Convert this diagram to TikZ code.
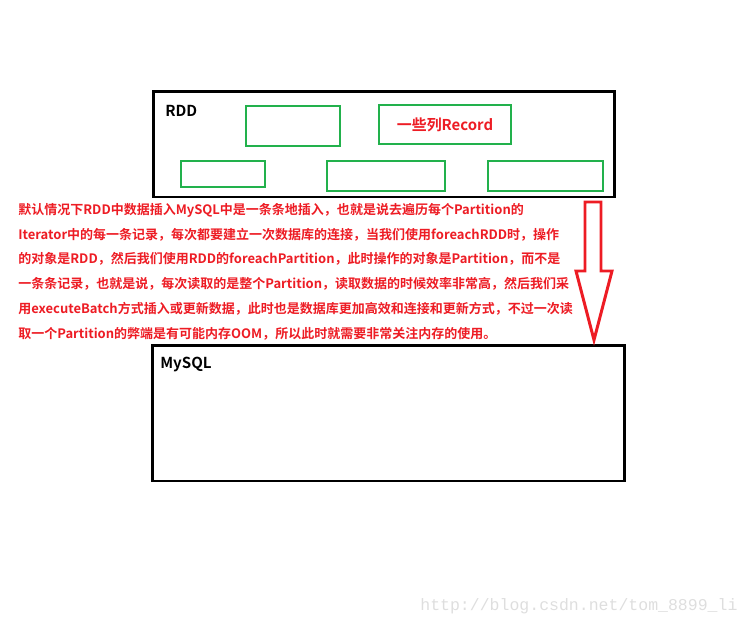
\documentclass[tikz,border=0pt]{standalone}
\usepackage{fontspec}
\setmainfont{Noto Sans CJK SC}[BoldFont={Noto Sans CJK SC Bold}]
\newfontfamily\urlfont{Liberation Mono}
\usepackage{xcolor}
\definecolor{paintred}{HTML}{ED1C24}
\definecolor{paintgreen}{HTML}{22B14C}
\usepackage{tikz}
\usetikzlibrary{positioning}

\begin{document}
\begin{tikzpicture}[x=0.02cm, y=-0.02cm,
    outer/.style={rectangle, draw=black, line width=1.7pt, inner sep=0pt},
    record/.style={rectangle, draw=paintgreen, line width=1.4pt, inner sep=0pt},
    title/.style={font=\fontsize{8.6}{10}\selectfont\bfseries, anchor=base west, inner sep=0pt},
    note/.style={font=\fontsize{7.4}{8}\selectfont\bfseries, text=paintred,
        anchor=base west, inner sep=0pt},
    bigarr/.style={draw=paintred, line width=1.7pt, line join=miter}
]
\useasboundingbox (0,0) rectangle (751,626);

% RDD box with its records
\node[outer, minimum width=9.24cm, minimum height=2.12cm] (RDD) at (384,144) {};
\node[title] (RDDlabel) at (165,116) {RDD};
\node[record, minimum width=1.88cm, minimum height=0.8cm] (R1) at (293,126) {};
\node[record, minimum width=2.64cm, minimum height=0.78cm] (R2) at (445,124.5) {};
\node[note, anchor=center, font=\fontsize{8.5}{10}\selectfont\bfseries] (R2label) at (R2) {一些列Record};
\node[record, minimum width=1.68cm, minimum height=0.52cm] (R3) at (223,174) {};
\node[record, minimum width=2.36cm, minimum height=0.6cm] (R4) at (386,176) {};
\node[record, minimum width=2.3cm, minimum height=0.6cm] (R5) at (545.5,176) {};

% MySQL box
\node[outer, minimum width=9.46cm, minimum height=2.72cm] (DB) at (388.5,413) {};
\node[title] (DBlabel) at (160,368) {MySQL};

% Explanation
\node[note] (L1) at (18,214) {默认情况下RDD中数据插入MySQL中是一条条地插入，也就是说去遍历每个Partition的};
\node[note] (L2) at (18,239) {Iterator中的每一条记录，每次都要建立一次数据库的连接，当我们使用foreachRDD时，操作};
\node[note] (L3) at (18,263) {的对象是RDD，然后我们使用RDD的foreachPartition，此时操作的对象是Partition，而不是};
\node[note] (L4) at (18,288) {一条条记录，也就是说，每次读取的是整个Partition，读取数据的时候效率非常高，然后我们采};
\node[note] (L5) at (18,313) {用executeBatch方式插入或更新数据，此时也是数据库更加高效和连接和更新方式，不过一次读};
\node[note] (L6) at (18,338) {取一个Partition的弊端是有可能内存OOM，所以此时就需要非常关注内存的使用。};

% Hollow arrow RDD -> MySQL
\draw[bigarr] (585,202) -- (601,202) -- (601,271) -- (612,271) -- (594,340)
    -- (576,271) -- (585,271) -- cycle;

% Watermark
\node[anchor=base west, inner sep=0pt, text=black!13, font=\urlfont\fontsize{9.4}{11}\selectfont]
    (mark) at (420,610) {http://blog.csdn.net/tom\_8899\_li};

\end{tikzpicture}
\end{document}
